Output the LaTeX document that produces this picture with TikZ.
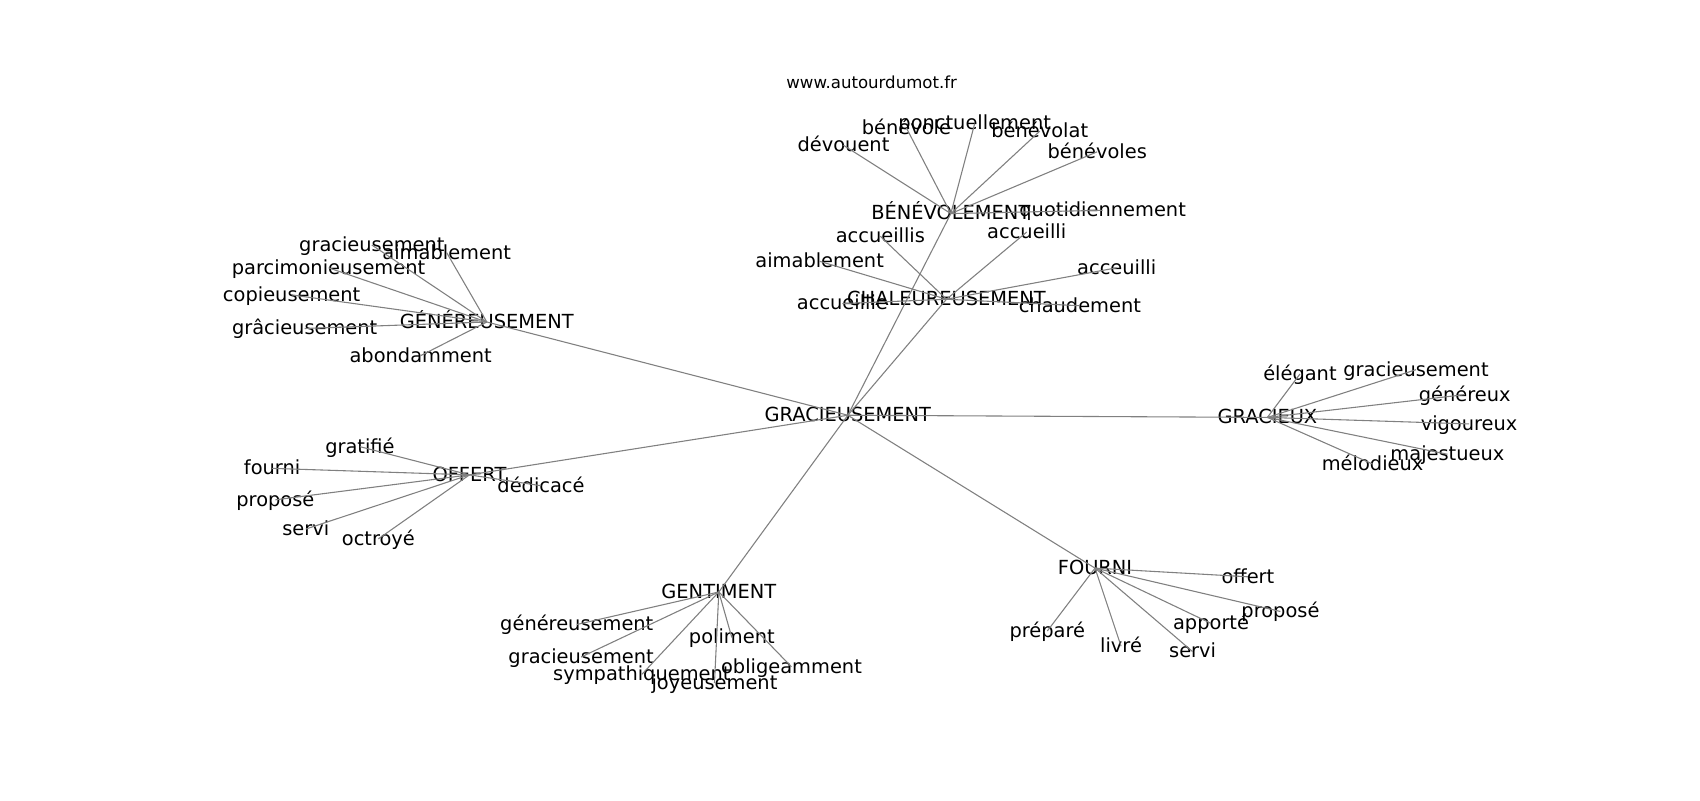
\documentclass[tikz,border=0pt]{standalone}
\usepackage{fontspec}
\setmainfont{DejaVu Sans}

\begin{document}
\begin{tikzpicture}[x=1pt,y=-1pt]
	\tikzstyle{every node}=[inner sep=0pt,font=\fontsize{17.9}{21}\selectfont,text height=15.6pt,text depth=3.8pt]
	\tikzstyle{site}=[font=\fontsize{15.3}{18}\selectfont,text height=15.2pt,text depth=3.2pt]
	\tikzstyle{lien}=[draw=gray,line width=1pt]
	\useasboundingbox (0,0) rectangle (1568,738);

	\node[site] (titre) at (804,76) {www.autourdumot.fr};

	% mots principaux
	\foreach \x/\y/\n/\t in {782/383/gracieusement/GRACIEUSEMENT, 877/197/benevolement/BÉNÉVOLEMENT,
		873/276/chaleureusement/CHALEUREUSEMENT, 449/297/genereusement/GÉNÉREUSEMENT,
		433/438/offert/OFFERT, 663/546/gentiment/GENTIMENT, 1010/524/fourni/FOURNI,
		1169/385/gracieux/GRACIEUX}
		\node (\n) at (\x,\y) {\t};

	% voisins
	\foreach \x/\y/\n/\t in {778/134/ben1/dévouent, 836/118/ben2/bénévole, 899/114/ben3/ponctuellement,
		959/121/ben4/bénévolat, 1012/140/ben5/bénévoles, 1017/194/ben6/quotidiennement,
		812/218/cha1/accueillis, 947/214/cha2/accueilli, 756/241/cha3/aimablement,
		1030/247/cha4/acceuilli, 777/280/cha5/accueillie, 996/282/cha6/chaudement,
		343/226/gen1/gracieusement, 412/233/gen2/aimablement, 303/247/gen3/parcimonieusement,
		269/272/gen4/copieusement, 281/303/gen5/grâcieusement, 388/328/gen6/abondamment,
		332/412/off1/gratifié, 251/432/off2/fourni, 254/461/off3/proposé,
		282/488/off4/servi, 349/497/off5/octroyé, 499/448/off6/dédicacé,
		532/576/gti1/généreusement, 536/606/gti2/gracieusement, 592/622/gti3/sympathiquement,
		659/630/gti4/joyeusement, 675/588/gti5/poliment, 730/615/gti6/obligeamment,
		1151/532/fou1/offert, 1181/564/fou2/proposé, 1117/575/fou3/apporté,
		1100/601/fou4/servi, 1034/596/fou5/livré, 966/582/fou6/préparé,
		1199/345/gra1/élégant, 1306/341/gra2/gracieusement, 1351/364/gra3/généreux,
		1355/391/gra4/vigoureux, 1335/419/gra5/majestueux, 1266/428/gra6/mélodieux}
		\node (\n) at (\x,\y) {\t};

	% liens
	\foreach \b in {benevolement,chaleureusement,genereusement,offert,gentiment,fourni,gracieux}
		\draw[lien] (gracieusement.center) -- (\b.center);
	\foreach \a/\p in {benevolement/ben,chaleureusement/cha,genereusement/gen,offert/off,gentiment/gti,fourni/fou,gracieux/gra}
		\foreach \i in {1,...,6}
			\draw[lien] (\a.center) -- (\p\i.center);
\end{tikzpicture}
\end{document}
